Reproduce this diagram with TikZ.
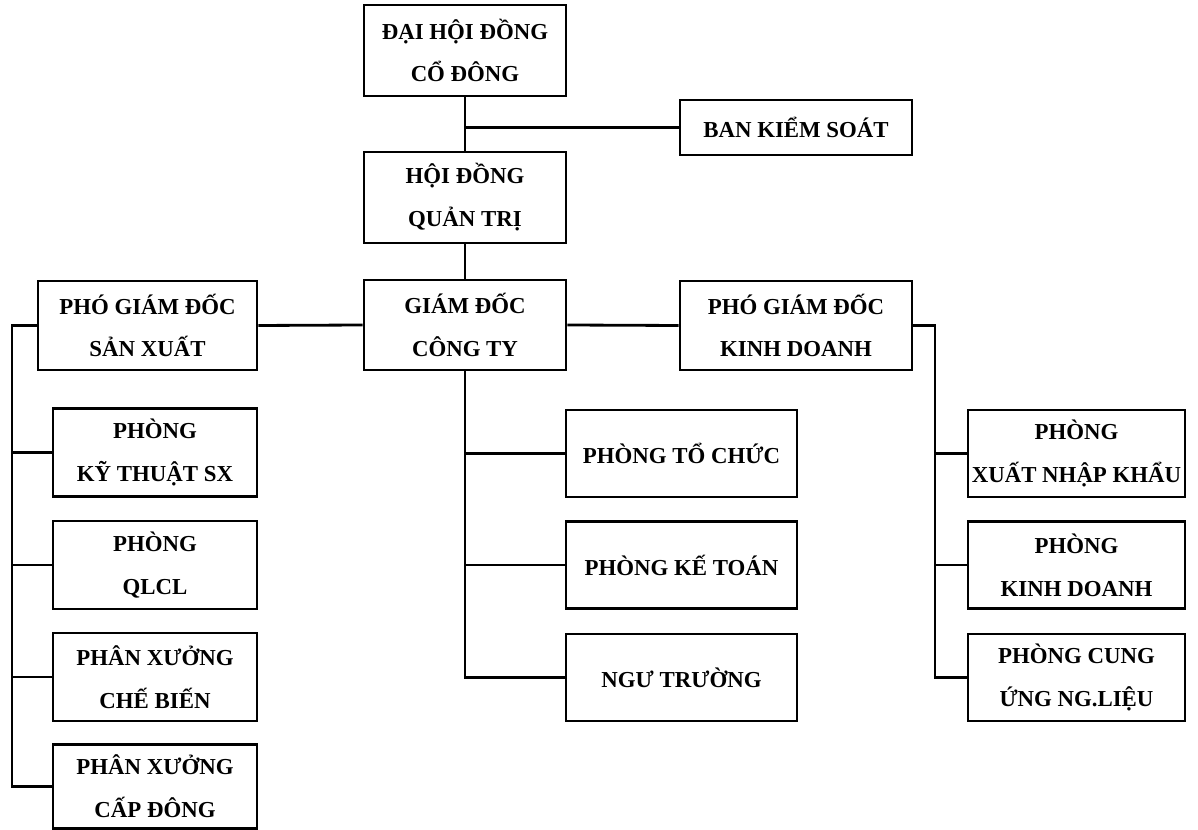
\documentclass[tikz,border=0pt]{standalone}
\usepackage{fontspec}
\setmainfont{Liberation Serif}
\usetikzlibrary{positioning,calc,shadows}

\begin{document}
\begin{tikzpicture}[x=0.02cm, y=-0.02cm,
    box/.style={draw, line width=1.5pt, fill=white, align=center, inner sep=0pt,
        drop shadow={shadow xshift=0.7pt, shadow yshift=-0.7pt, fill=black, opacity=1},
        font=\bfseries\fontsize{13}{24.4}\selectfont},
    topbox/.style={box, minimum width=4.04cm, minimum height=1.82cm},
    sidebox/.style={box, minimum width=4.64cm, minimum height=1.78cm},
    leftbox/.style={box, minimum width=4.08cm, minimum height=1.76cm},
    midbox/.style={box, minimum width=4.62cm, minimum height=1.74cm},
    rightbox/.style={box, minimum width=4.34cm, minimum height=1.74cm},
    link/.style={line width=1.6pt}
]
    \useasboundingbox[fill=white] (0,0) rectangle (1198,830);
    % top of the chart
    \node[topbox] (dhcd) at (465, 50.5) {ĐẠI HỘI ĐỒNG\\CỔ ĐÔNG};
    \node[box, minimum width=4.64cm, minimum height=1.1cm] (bks) at (796, 127.5) {BAN KIỂM SOÁT};
    \node[topbox] (hdqt) at (465, 197.5) {HỘI ĐỒNG\\QUẢN TRỊ};
    \node[topbox, minimum height=1.8cm] (gd) at (465, 325) {GIÁM ĐỐC\\CÔNG TY};
    \node[sidebox, minimum width=4.38cm] (pgsx) at (147.5, 325.5) {PHÓ GIÁM ĐỐC\\SẢN XUẤT};
    \node[sidebox] (pgkd) at (796, 325.5) {PHÓ GIÁM ĐỐC\\KINH DOANH};
    % left column
    \node[leftbox] (ktsx) at (155, 452.5) {PHÒNG\\KỸ THUẬT SX};
    \node[leftbox] (qlcl) at (155, 565) {PHÒNG\\QLCL};
    \node[leftbox] (pxcb) at (155, 677) {PHÂN XƯỞNG\\CHẾ BIẾN};
    \node[leftbox, minimum height=1.68cm] (pxcd) at (155, 786.5) {PHÂN XƯỞNG\\CẤP ĐÔNG};
    % middle column
    \node[midbox] (ptc) at (681.5, 453.5) {PHÒNG TỔ CHỨC};
    \node[midbox] (pkt) at (681.5, 565) {PHÒNG KẾ TOÁN};
    \node[midbox] (ngt) at (681.5, 677.5) {NGƯ TRƯỜNG};
    % right column
    \node[rightbox] (pxnk) at (1076.5, 453.5) {PHÒNG\\XUẤT NHẬP KHẨU};
    \node[rightbox] (pkd) at (1076.5, 565) {PHÒNG\\KINH DOANH};
    \node[rightbox] (pcu) at (1076.5, 677.5) {PHÒNG CUNG\\ỨNG NG.LIỆU};

    \coordinate (lb) at (12, 0);
    \coordinate (rb) at (935, 0);

    \draw[link] (dhcd.south) -- (hdqt.north);
    \draw[link] (bks.west) -- (bks.west -| dhcd.south);
    \draw[link] (hdqt.south) -- (gd.north);
    \draw[link] (pgsx.east) -- (gd.west);
    \draw[link] (gd.east) -- (pgkd.west);

    \draw[link] (pgsx.west) -| (lb |- pxcd.west) -- (pxcd.west);
    \foreach \n in {ktsx, qlcl, pxcb}
        \draw[link] (lb |- \n.west) -- (\n.west);

    \draw[link] (gd.south) |- (ngt.west);
    \foreach \n in {ptc, pkt}
        \draw[link] (gd.south |- \n.west) -- (\n.west);

    \draw[link] (pgkd.east) -| (rb |- pcu.west) -- (pcu.west);
    \foreach \n in {pxnk, pkd}
        \draw[link] (rb |- \n.west) -- (\n.west);
\end{tikzpicture}
\end{document}
